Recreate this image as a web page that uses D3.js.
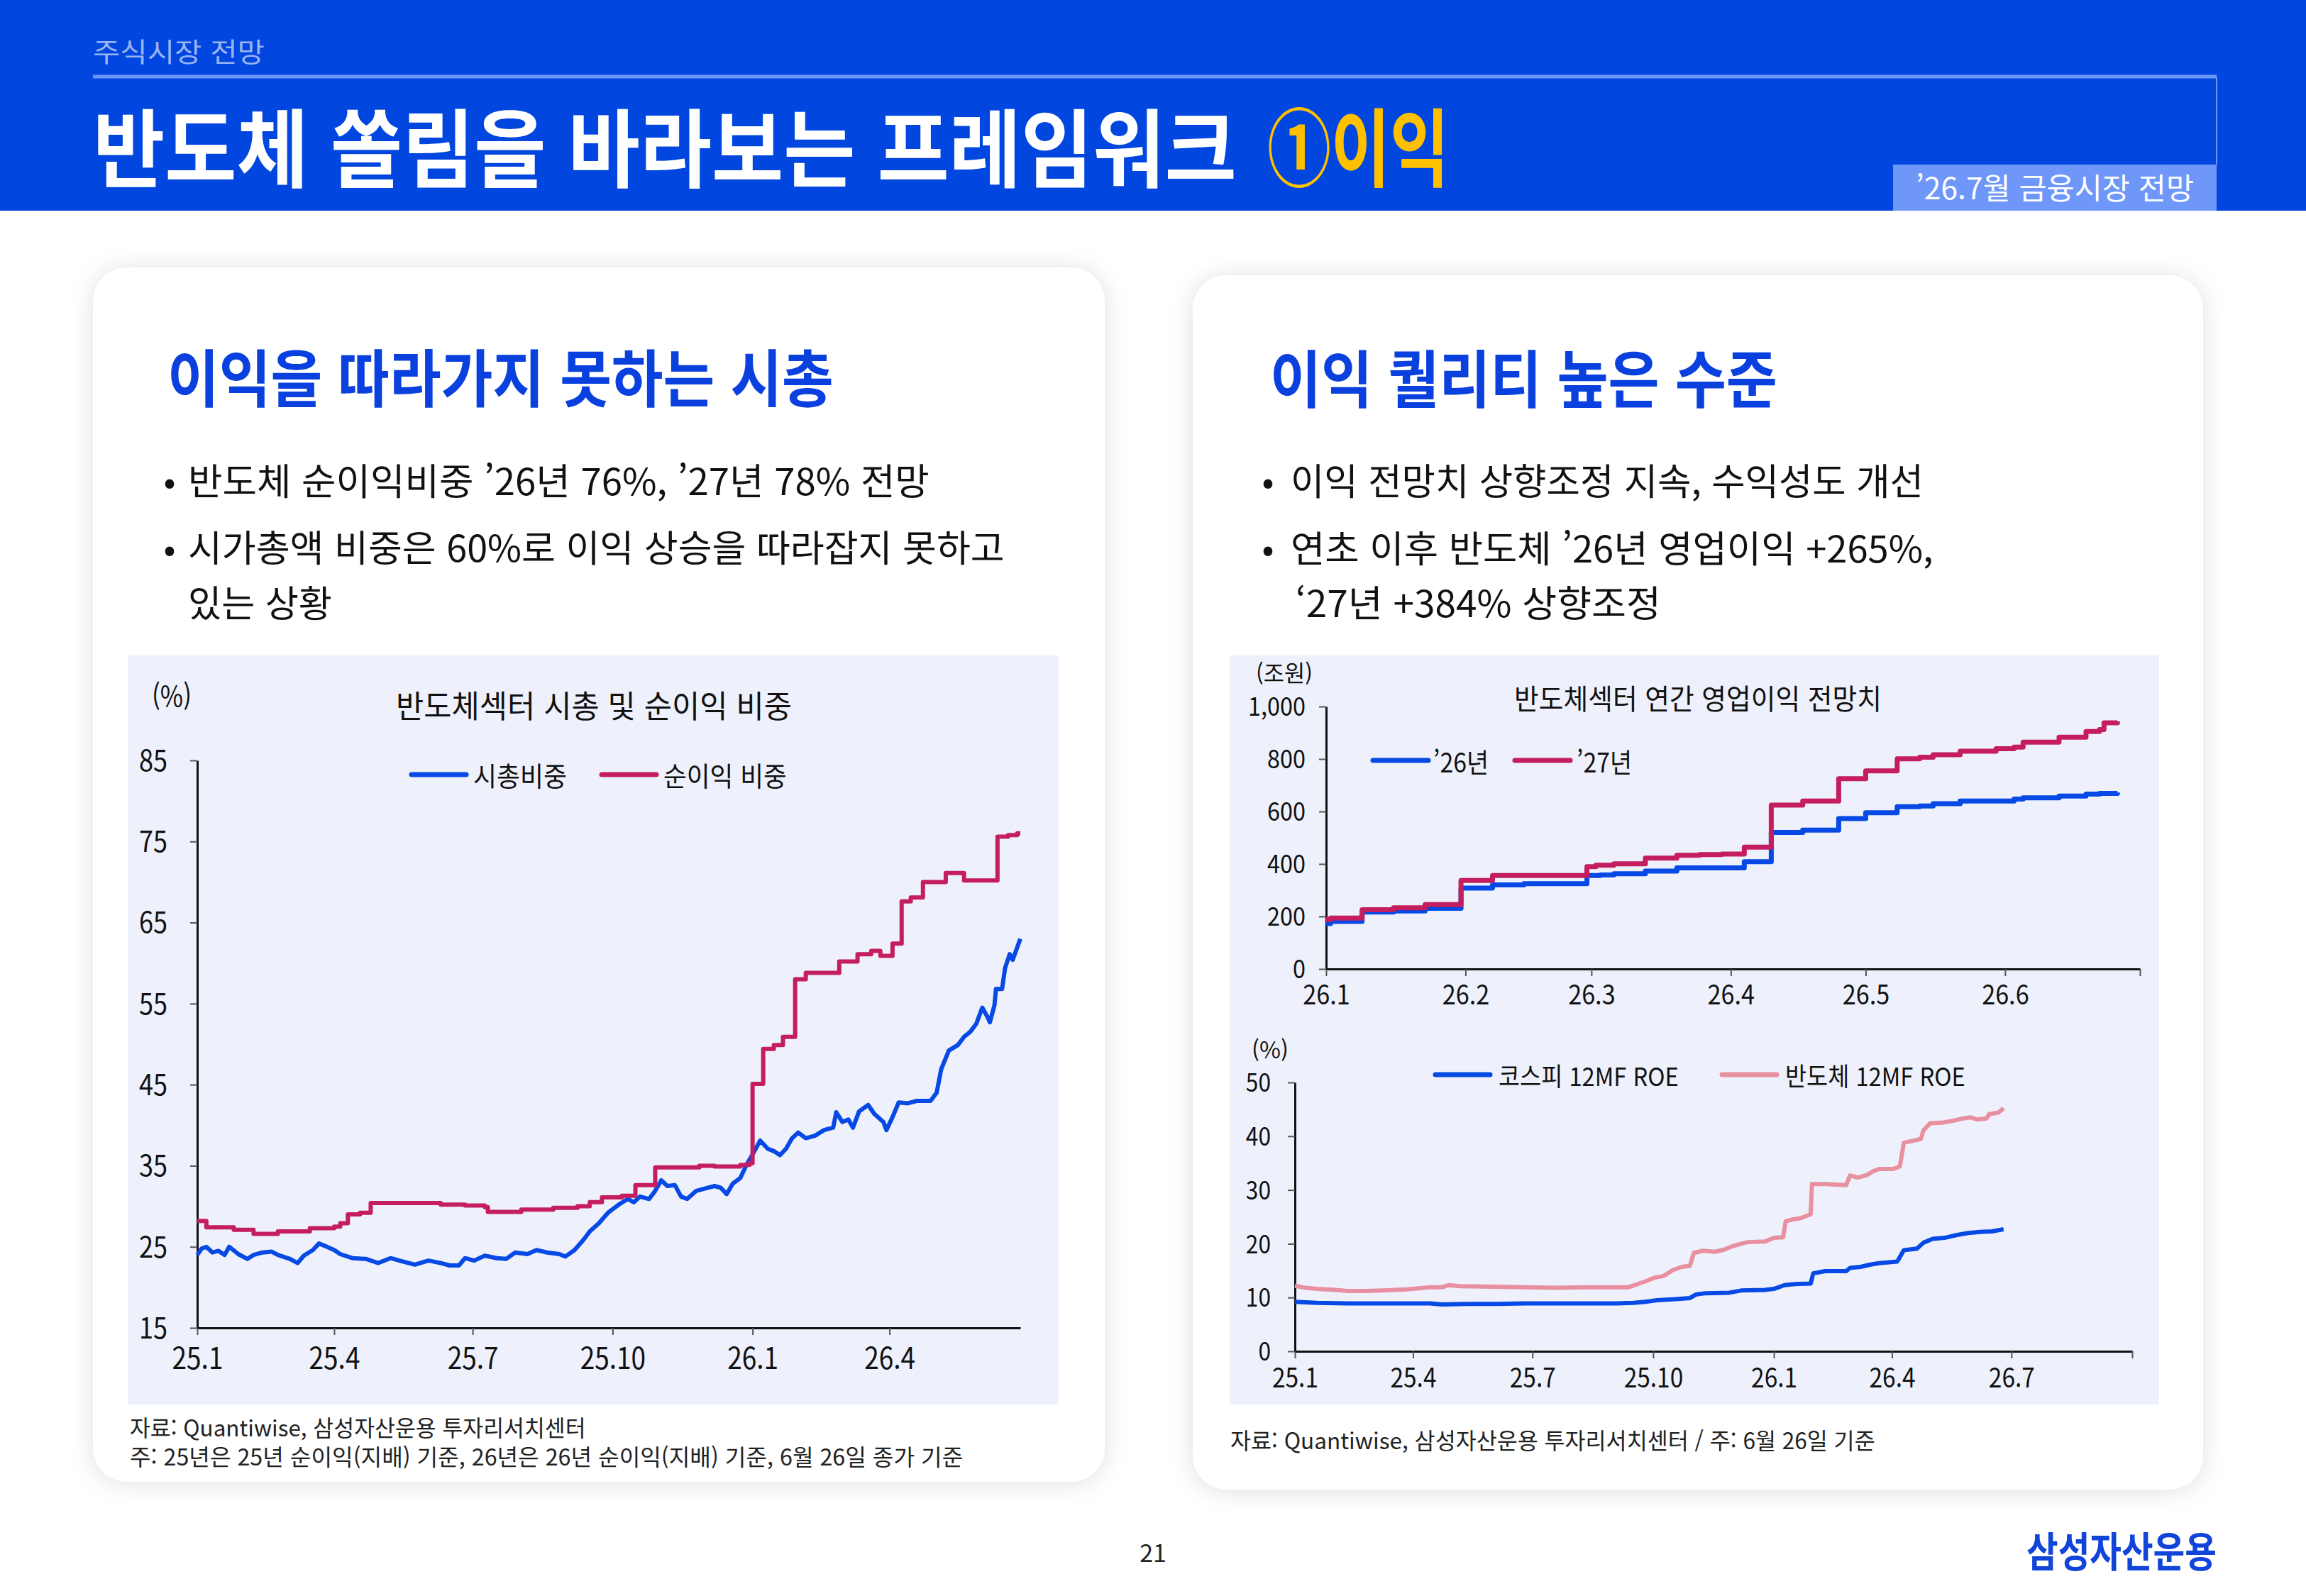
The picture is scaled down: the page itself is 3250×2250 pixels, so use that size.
<!DOCTYPE html>
<html lang="ko">
<head>
<meta charset="UTF-8" />
<title>반도체 쏠림을 바라보는 프레임워크</title>
<script src="https://cdn.jsdelivr.net/npm/d3@7"></script>
<style>
  body { margin: 0; background: #fff; }
  svg { display: block; font-family: "Noto Sans CJK KR", "Noto Sans", sans-serif; }
</style>
</head>
<body>
<svg id="page" width="3250" height="2250"></svg>
<script>
// ---- data ----
// 반도체섹터 시가총액 비중 (%)
const mcapShare = [
  ["2025-01-01",24.0],["2025-01-04",24.8],["2025-01-07",25.0],["2025-01-11",24.3],["2025-01-15",24.5],
  ["2025-01-19",24.0],["2025-01-22",25.0],["2025-01-28",24.1],["2025-02-03",23.5],["2025-02-07",24.0],
  ["2025-02-13",24.3],["2025-02-19",24.4],["2025-02-23",24.0],["2025-03-03",23.5],["2025-03-08",23.0],
  ["2025-03-12",23.9],["2025-03-18",24.6],["2025-03-22",25.4],["2025-03-26",25.1],["2025-04-01",24.6],
  ["2025-04-05",24.1],["2025-04-13",23.6],["2025-04-22",23.5],["2025-04-30",23.0],["2025-05-08",23.6],
  ["2025-05-16",23.2],["2025-05-24",22.8],["2025-06-02",23.3],["2025-06-10",23.0],["2025-06-16",22.7],
  ["2025-06-22",22.7],["2025-06-26",23.6],["2025-07-02",23.3],["2025-07-09",23.9],["2025-07-17",23.6],
  ["2025-07-23",23.5],["2025-07-29",24.3],["2025-08-06",24.1],["2025-08-12",24.6],["2025-08-19",24.3],
  ["2025-08-27",24.1],["2025-08-31",23.8],["2025-09-06",24.6],["2025-09-12",25.9],["2025-09-16",26.9],
  ["2025-09-22",27.9],["2025-09-28",29.2],["2025-10-05",30.2],["2025-10-11",30.9],["2025-10-15",30.5],
  ["2025-10-19",31.2],["2025-10-25",30.9],["2025-10-29",31.9],["2025-11-02",33.2],["2025-11-06",32.5],
  ["2025-11-11",32.6],["2025-11-15",31.2],["2025-11-19",30.9],["2025-11-25",31.9],["2025-12-01",32.2],
  ["2025-12-07",32.5],["2025-12-11",32.3],["2025-12-15",31.5],["2025-12-19",32.8],["2025-12-24",33.5],
  ["2025-12-28",35.1],["2026-01-01",36.4],["2026-01-06",38.1],["2026-01-11",37.1],["2026-01-15",36.8],
  ["2026-01-19",36.3],["2026-01-23",37.1],["2026-01-27",38.4],["2026-01-31",39.1],["2026-02-05",38.4],
  ["2026-02-11",38.7],["2026-02-17",39.4],["2026-02-23",39.7],["2026-02-25",41.6],["2026-03-01",40.4],
  ["2026-03-05",40.7],["2026-03-08",39.7],["2026-03-12",41.7],["2026-03-18",42.5],["2026-03-22",41.4],
  ["2026-03-28",40.4],["2026-03-30",39.4],["2026-04-03",41.0],["2026-04-07",42.8],["2026-04-13",42.7],
  ["2026-04-19",43.0],["2026-04-28",43.0],["2026-05-02",44.0],["2026-05-05",46.9],["2026-05-10",49.2],
  ["2026-05-16",49.9],["2026-05-20",50.9],["2026-05-24",51.5],["2026-05-28",52.5],["2026-06-01",54.5],
  ["2026-06-04",53.5],["2026-06-06",52.7],["2026-06-09",54.8],["2026-06-10",56.8],["2026-06-14",56.8],
  ["2026-06-16",59.4],["2026-06-19",61.1],["2026-06-21",60.4],["2026-06-26",63.0]
];
// 반도체섹터 순이익 비중 (%)
const profitShare = [
  ["2025-01-01",28.2],["2025-01-07",27.4],["2025-01-25",27.1],["2025-02-07",26.6],["2025-02-23",26.9],
  ["2025-03-16",27.3],["2025-04-01",27.5],["2025-04-05",27.9],["2025-04-10",29.0],["2025-04-18",29.2],
  ["2025-04-25",30.4],["2025-06-10",30.2],["2025-06-26",30.1],["2025-07-09",29.9],["2025-07-11",29.3],
  ["2025-08-02",29.6],["2025-08-23",29.8],["2025-09-08",30.0],["2025-09-16",30.5],["2025-09-24",31.1],
  ["2025-10-07",31.3],["2025-10-16",32.6],["2025-10-29",34.8],["2025-11-27",35.0],["2025-12-07",34.9],
  ["2025-12-24",35.1],["2025-12-30",35.3],["2026-01-01",45.1],["2026-01-08",49.4],["2026-01-15",49.9],
  ["2026-01-21",50.9],["2026-01-29",58.0],["2026-02-05",58.8],["2026-02-27",60.2],["2026-03-11",61.1],
  ["2026-03-20",61.5],["2026-03-26",60.9],["2026-04-03",62.4],["2026-04-09",67.6],["2026-04-15",68.1],
  ["2026-04-23",70.0],["2026-05-08",71.1],["2026-05-20",70.2],["2026-06-11",75.6],["2026-06-18",75.8],
  ["2026-06-24",76.0],["2026-06-26",76.0]
];
// 반도체섹터 연간 영업이익 전망치 (조원)
const op26 = [
  ["2026-01-01",173],["2026-01-02",181],["2026-01-09",217],["2026-01-16",221],["2026-01-23",231],
  ["2026-01-31",308],["2026-02-07",320],["2026-02-14",325],["2026-02-28",356],["2026-03-03",358],
  ["2026-03-06",363],["2026-03-13",373],["2026-03-20",385],["2026-04-04",409],["2026-04-10",520],
  ["2026-04-17",529],["2026-04-25",573],["2026-05-01",595],["2026-05-08",618],["2026-05-13",621],
  ["2026-05-16",630],["2026-05-22",640],["2026-06-03",647],["2026-06-05",652],["2026-06-13",659],
  ["2026-06-19",666],["2026-06-22",669],["2026-06-26",672]
];
const op27 = [
  ["2026-01-01",188],["2026-01-02",194],["2026-01-09",226],["2026-01-16",233],["2026-01-23",245],
  ["2026-01-31",337],["2026-02-07",356],["2026-02-28",390],["2026-03-02",395],["2026-03-06",401],
  ["2026-03-13",422],["2026-03-20",433],["2026-03-25",436],["2026-03-30",438],["2026-04-04",464],
  ["2026-04-10",624],["2026-04-17",640],["2026-04-25",725],["2026-05-01",755],["2026-05-08",801],
  ["2026-05-13",807],["2026-05-16",816],["2026-05-22",830],["2026-05-30",839],["2026-06-03",845],
  ["2026-06-05",864],["2026-06-13",883],["2026-06-19",905],["2026-06-22",912],["2026-06-23",938],
  ["2026-06-26",943]
];
// 12MF ROE (%)
const kospiRoe = [
  ["2025-01-01",9.2],["2025-01-18",9.0],["2025-02-10",8.9],["2025-03-27",8.9],["2025-04-14",8.9],
  ["2025-04-23",8.7],["2025-05-12",8.8],["2025-06-03",8.8],["2025-06-26",8.9],["2025-07-24",8.9],
  ["2025-08-11",8.9],["2025-09-03",8.9],["2025-09-16",9.0],["2025-09-25",9.2],["2025-10-04",9.5],
  ["2025-10-18",9.7],["2025-10-29",9.9],["2025-11-03",10.6],["2025-11-10",10.8],["2025-11-28",10.9],
  ["2025-12-07",11.3],["2025-12-25",11.4],["2026-01-01",11.6],["2026-01-09",12.3],["2026-01-17",12.5],
  ["2026-01-29",12.6],["2026-01-31",14.5],["2026-02-09",14.9],["2026-02-25",14.9],["2026-02-28",15.5],
  ["2026-03-08",15.7],["2026-03-15",16.1],["2026-03-22",16.4],["2026-04-05",16.7],["2026-04-10",18.8],
  ["2026-04-20",19.1],["2026-04-25",20.2],["2026-05-02",20.9],["2026-05-11",21.1],["2026-05-20",21.6],
  ["2026-05-29",22.0],["2026-06-07",22.2],["2026-06-16",22.3],["2026-06-25",22.7]
];
const semiRoe = [
  ["2025-01-01",12.2],["2025-01-09",11.8],["2025-01-18",11.6],["2025-02-01",11.4],["2025-02-10",11.2],
  ["2025-02-23",11.2],["2025-03-09",11.3],["2025-03-27",11.5],["2025-04-05",11.7],["2025-04-14",11.9],
  ["2025-04-23",11.9],["2025-04-28",12.3],["2025-05-07",12.1],["2025-06-03",12.0],["2025-06-26",11.9],
  ["2025-07-19",11.8],["2025-08-11",11.9],["2025-09-12",11.9],["2025-09-18",12.4],["2025-09-25",13.0],
  ["2025-10-02",13.7],["2025-10-09",14.0],["2025-10-16",15.1],["2025-10-23",15.7],["2025-10-29",15.9],
  ["2025-11-01",18.3],["2025-11-08",18.7],["2025-11-17",18.5],["2025-11-24",18.9],["2025-11-30",19.5],
  ["2025-12-07",20.0],["2025-12-12",20.3],["2025-12-25",20.4],["2026-01-01",21.1],["2026-01-08",21.2],
  ["2026-01-10",24.2],["2026-01-15",24.5],["2026-01-22",24.8],["2026-01-29",25.5],["2026-01-30",31.1],
  ["2026-02-09",31.1],["2026-02-25",30.9],["2026-02-28",32.7],["2026-03-06",32.3],["2026-03-13",32.8],
  ["2026-03-17",33.4],["2026-03-22",33.9],["2026-04-02",33.9],["2026-04-07",34.4],["2026-04-10",38.8],
  ["2026-04-18",39.2],["2026-04-23",39.5],["2026-04-25",41.1],["2026-04-30",42.4],["2026-05-09",42.5],
  ["2026-05-18",42.9],["2026-05-25",43.3],["2026-05-31",43.5],["2026-06-05",43.1],["2026-06-12",43.3],
  ["2026-06-14",44.1],["2026-06-21",44.4],["2026-06-25",45.2]
];

// ticks
const shareTicks = [15, 25, 35, 45, 55, 65, 75, 85];
const shareMonths = ["2025-01-01","2025-04-01","2025-07-01","2025-10-01","2026-01-01","2026-04-01"];
const shareMonthLabels = ["25.1","25.4","25.7","25.10","26.1","26.4"];
const opTicks = [0, 200, 400, 600, 800, 1000];
const opMonths = ["2026-01-01","2026-02-01","2026-03-01","2026-04-01","2026-05-01","2026-06-01","2026-07-01"];
const opMonthLabels = ["26.1","26.2","26.3","26.4","26.5","26.6",""];
const roeTicks = [0, 10, 20, 30, 40, 50];
const roeMonths = ["2025-01-01","2025-04-01","2025-07-01","2025-10-01","2026-01-01","2026-04-01","2026-07-01","2026-10-01"];
const roeMonthLabels = ["25.1","25.4","25.7","25.10","26.1","26.4","26.7",""];

const BLUE = "#0649E4", CRIMSON = "#C41E5E", PINK = "#E8909F", INK = "#111";

const parse = d3.timeParse("%Y-%m-%d");
const svg = d3.select("#page");

// text helper: y is the visual centre; w squeezes the text horizontally to the reference width
function label(g, txt, x, y, size, o = {}) {
  const t = g.append("text")
    .attr("x", x).attr("y", y)
    .attr("font-size", size)
    .attr("font-weight", o.weight || 400)
    .attr("fill", o.fill || INK)
    .attr("text-anchor", o.anchor || "start")
    .attr("dominant-baseline", "central")
    .text(txt);
  if (o.w) {
    const k = o.w / t.node().getComputedTextLength();
    t.attr("transform", `translate(${x},0) scale(${k},1) translate(${-x},0)`);
  }
  return t;
}

// shadow for the cards
const defs = svg.append("defs");
const f = defs.append("filter").attr("id", "shadow")
  .attr("x", "-10%").attr("y", "-10%").attr("width", "120%").attr("height", "120%");
f.append("feDropShadow").attr("dx", 0).attr("dy", 2).attr("stdDeviation", 16)
  .attr("flood-color", "#000").attr("flood-opacity", 0.13);

// ---- header ----
svg.append("rect").attr("x", 0).attr("y", 0).attr("width", 3250).attr("height", 297).attr("fill", "#0046DF");
label(svg, "주식시장 전망", 131, 70, 38, { fill: "#9AB3F3", w: 242 });
svg.append("line").attr("x1", 131).attr("x2", 3124).attr("y1", 108).attr("y2", 108)
  .attr("stroke", "#6C97F8").attr("stroke-width", 5);
svg.append("line").attr("x1", 3124).attr("x2", 3124).attr("y1", 108).attr("y2", 232)
  .attr("stroke", "#6C97F8").attr("stroke-width", 2);
label(svg, "반도체 쏠림을 바라보는 프레임워크", 131, 202, 120, { fill: "#fff", weight: 700, w: 1612 });
label(svg, "①이익", 1786, 202, 120, { fill: "#FFC000", weight: 700, w: 256 });
svg.append("rect").attr("x", 2668).attr("y", 232).attr("width", 456).attr("height", 65).attr("fill", "#6E97F9");
label(svg, "’26.7월 금융시장 전망", 2896, 263, 42, { fill: "#fff", anchor: "middle", w: 392 });

// ---- cards ----
svg.append("rect").attr("x", 131).attr("y", 377).attr("width", 1426).attr("height", 1712)
  .attr("rx", 48).attr("fill", "#fff").attr("filter", "url(#shadow)");
svg.append("rect").attr("x", 1681).attr("y", 388).attr("width", 1424).attr("height", 1712)
  .attr("rx", 48).attr("fill", "#fff").attr("filter", "url(#shadow)");

label(svg, "이익을 따라가지 못하는 시총", 236, 528, 88, { fill: "#0A40DD", weight: 700, w: 939 });
label(svg, "이익 퀄리티 높은 수준", 1790, 528, 88, { fill: "#0A40DD", weight: 700, w: 715 });

const bullets = svg.append("g");
label(bullets, "•", 239, 675, 50, { anchor: "middle" });
label(bullets, "반도체 순이익비중 ’26년 76%, ’27년 78% 전망", 265, 675, 52, { w: 1045 });
label(bullets, "•", 239, 770, 50, { anchor: "middle" });
label(bullets, "시가총액 비중은 60%로 이익 상승을 따라잡지 못하고", 265, 770, 52, { w: 1151 });
label(bullets, "있는 상황", 265, 847, 52, { w: 203 });
label(bullets, "•", 1787, 675, 50, { anchor: "middle" });
label(bullets, "이익 전망치 상향조정 지속, 수익성도 개선", 1819, 675, 52, { w: 892 });
label(bullets, "•", 1787, 770, 50, { anchor: "middle" });
label(bullets, "연초 이후 반도체 ’26년 영업이익 +265%,", 1819, 770, 52, { w: 906 });
label(bullets, "‘27년 +384% 상향조정", 1826, 847, 52, { w: 515 });

// chart panels
svg.append("rect").attr("x", 180).attr("y", 924).attr("width", 1312).attr("height", 1056).attr("fill", "#EEF1FC");
svg.append("rect").attr("x", 1733).attr("y", 924).attr("width", 1310).attr("height", 1056).attr("fill", "#EEF1FC");

// ---- generic time-series chart ----
function drawChart(c) {
  const g = svg.append("g");
  const x = d3.scaleTime().domain(c.xDomain.map(parse)).range(c.xRange);
  const y = d3.scaleLinear().domain(c.yDomain).range(c.yRange);

  const xa = g.append("g").attr("transform", `translate(0,${c.yRange[0]})`)
    .call(d3.axisBottom(x).tickValues(c.xTicks.map(parse))
      .tickFormat((d, i) => c.xLabels[i]).tickSize(10).tickSizeOuter(0));
  const ya = g.append("g").attr("transform", `translate(${c.xRange[0]},0)`)
    .call(d3.axisLeft(y).tickValues(c.yTicks).tickFormat(d3.format(",")).tickSize(10).tickSizeOuter(0));

  [xa, ya].forEach(a => {
    a.attr("font-family", null).attr("font-size", null);
    a.select(".domain").attr("stroke", INK).attr("stroke-width", 3);
    a.selectAll(".tick line").attr("stroke", "#555").attr("stroke-width", 2);
    a.selectAll(".tick text").attr("fill", INK);
  });
  xa.selectAll(".tick text").attr("y", 0).attr("dy", "0.35em").attr("font-size", c.xFont)
    .attr("transform", `translate(0,${c.xLabelDy}) scale(${c.sx},1)`);
  ya.selectAll(".tick text").attr("x", 0).attr("dy", "0.35em").attr("font-size", c.yFont)
    .attr("transform", `translate(${-c.yLabelGap},0) scale(${c.sx},1)`);

  c.series.forEach(s => {
    g.append("path").datum(s.data)
      .attr("d", d3.line().x(d => x(parse(d[0]))).y(d => y(d[1])).curve(s.curve || d3.curveLinear))
      .attr("fill", "none").attr("stroke", s.color).attr("stroke-width", c.lw)
      .attr("stroke-linejoin", "round");
  });

  c.legend.forEach(l => {
    g.append("line").attr("x1", l.x1).attr("x2", l.x2).attr("y1", c.legendY).attr("y2", c.legendY)
      .attr("stroke", l.color).attr("stroke-width", 7).attr("stroke-linecap", "round");
    label(g, l.text, l.tx, c.legendY, c.legendFont, { w: l.tw });
  });
  return g;
}

// left: 시총 및 순이익 비중
const shareChart = drawChart({
  xDomain: ["2025-01-01", "2026-06-26"], xRange: [278, 1438],
  yDomain: [15, 85], yRange: [1872, 1072],
  xTicks: shareMonths, xLabels: shareMonthLabels, yTicks: shareTicks,
  xFont: 42, yFont: 41, sx: 0.88, xLabelDy: 43, yLabelGap: 42, lw: 6,
  series: [
    { data: mcapShare, color: BLUE },
    { data: profitShare, color: CRIMSON, curve: d3.curveStepAfter }
  ],
  legendY: 1092, legendFont: 38,
  legend: [
    { x1: 580, x2: 657, color: BLUE, text: "시총비중", tx: 667, tw: 132 },
    { x1: 848, x2: 925, color: CRIMSON, text: "순이익 비중", tx: 935, tw: 174 }
  ]
});
label(shareChart, "(%)", 214, 978, 40, { w: 56 });
label(shareChart, "반도체섹터 시총 및 순이익 비중", 837, 993, 44, { anchor: "middle", w: 558 });

// right top: 연간 영업이익 전망치
const opChart = drawChart({
  xDomain: ["2026-01-01", "2026-07-01"], xRange: [1869, 3016],
  yDomain: [0, 1000], yRange: [1366, 996],
  xTicks: opMonths, xLabels: opMonthLabels, yTicks: opTicks,
  xFont: 38, yFont: 36, sx: 0.9, xLabelDy: 37, yLabelGap: 29, lw: 7,
  series: [
    { data: op26, color: BLUE, curve: d3.curveStepAfter },
    { data: op27, color: CRIMSON, curve: d3.curveStepAfter }
  ],
  legendY: 1072, legendFont: 38,
  legend: [
    { x1: 1935, x2: 2013, color: BLUE, text: "’26년", tx: 2020, tw: 78 },
    { x1: 2135, x2: 2213, color: CRIMSON, text: "’27년", tx: 2222, tw: 78 }
  ]
});
label(opChart, "(조원)", 1810, 947, 32, { anchor: "middle", w: 80 });
label(opChart, "반도체섹터 연간 영업이익 전망치", 2393, 983, 40, { anchor: "middle", w: 518 });

// right bottom: 12MF ROE
const roeChart = drawChart({
  xDomain: ["2025-01-01", "2026-10-01"], xRange: [1825, 3005],
  yDomain: [0, 50], yRange: [1905, 1526],
  xTicks: roeMonths, xLabels: roeMonthLabels, yTicks: roeTicks,
  xFont: 38, yFont: 36, sx: 0.88, xLabelDy: 38, yLabelGap: 34, lw: 6,
  series: [
    { data: kospiRoe, color: BLUE },
    { data: semiRoe, color: PINK }
  ],
  legendY: 1515, legendFont: 36,
  legend: [
    { x1: 2023, x2: 2100, color: BLUE, text: "코스피 12MF ROE", tx: 2112, tw: 254 },
    { x1: 2427, x2: 2504, color: PINK, text: "반도체 12MF ROE", tx: 2516, tw: 254 }
  ]
});
label(roeChart, "(%)", 1790, 1478, 32, { anchor: "middle", w: 52 });

// footnotes
label(svg, "자료: Quantiwise, 삼성자산운용 투자리서치센터", 183, 2011, 32, { fill: "#222", w: 643 });
label(svg, "주: 25년은 25년 순이익(지배) 기준, 26년은 26년 순이익(지배) 기준, 6월 26일 종가 기준", 183, 2052, 32, { fill: "#222", w: 1175 });
label(svg, "자료: Quantiwise, 삼성자산운용 투자리서치센터 / 주: 6월 26일 기준", 1734, 2029, 32, { fill: "#222", w: 909 });

// page footer
label(svg, "21", 1625, 2187, 34, { anchor: "middle", fill: "#222" });
label(svg, "삼성자산운용", 2856, 2184, 58, { fill: "#1144D8", weight: 700, w: 268 });
</script>
</body>
</html>
